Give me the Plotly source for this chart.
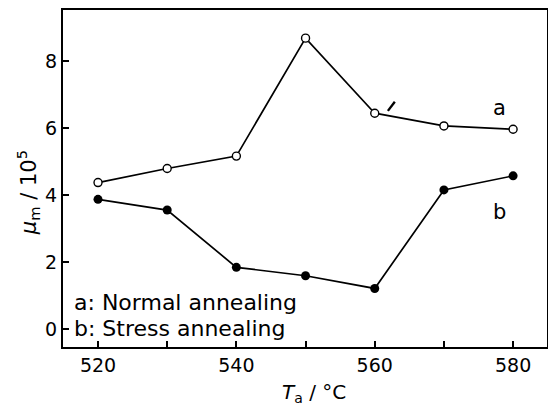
import plotly.graph_objects as go

temps = [520, 530, 540, 550, 560, 570, 580]
mu_normal = [4.37, 4.79, 5.16, 8.68, 6.44, 6.06, 5.96]
mu_stress = [3.87, 3.55, 1.84, 1.59, 1.21, 4.15, 4.57]
x_tickvals = [520, 540, 560, 580]
x_ticktext = ["520", "540", "560", "580"]
y_tickvals = [0, 2, 4, 6, 8]
y_ticktext = ["0", "2", "4", "6", "8"]
marker_arrow_x = [561.9, 562.9]
marker_arrow_y = [6.51, 6.78]

FONT = "DejaVu Sans"
fig = go.Figure()
fig.add_trace(go.Scatter(x=temps, y=mu_normal, mode="lines+markers",
                         line=dict(color="black", width=1.7),
                         marker=dict(symbol="circle", size=8, color="white",
                                     line=dict(color="black", width=1.4)),
                         showlegend=False))
fig.add_trace(go.Scatter(x=temps, y=mu_stress, mode="lines+markers",
                         line=dict(color="black", width=1.7),
                         marker=dict(symbol="circle", size=9, color="black"),
                         showlegend=False))

fig.add_shape(type="line", xref="x", yref="y",
              x0=marker_arrow_x[0], y0=marker_arrow_y[0],
              x1=marker_arrow_x[1], y1=marker_arrow_y[1],
              line=dict(color="black", width=2.4))

fig.add_annotation(x=578, y=6.61, text="a", showarrow=False,
                   font=dict(family=FONT, size=21, color="black"))
fig.add_annotation(x=578, y=3.50, text="b", showarrow=False,
                   font=dict(family=FONT, size=21, color="black"))
fig.add_annotation(x=516.3, y=0.80, xanchor="left", text="a: Normal annealing",
                   showarrow=False, font=dict(family=FONT, size=22, color="black"))
fig.add_annotation(x=516.3, y=0.03, xanchor="left", text="b: Stress annealing",
                   showarrow=False, font=dict(family=FONT, size=22, color="black"))

# axis titles
fig.add_annotation(xref="paper", yref="paper", x=0.519, y=-0.1365,
                   text="<i>T</i><sub>a</sub> / °C", showarrow=False,
                   xanchor="center", yanchor="middle",
                   font=dict(family=FONT, size=20, color="black"))
fig.add_annotation(xref="paper", yref="paper", x=-0.072, y=0.457,
                   text="<i>μ</i><sub>m</sub> / 10<sup>5</sup>", showarrow=False,
                   textangle=-90, xanchor="center", yanchor="middle",
                   font=dict(family=FONT, size=21, color="black"))

fig.update_xaxes(range=[514.94, 584.9], tickvals=x_tickvals, ticktext=x_ticktext,
                 ticks="inside", ticklen=6, tickwidth=1.5, tickcolor="black",
                 minor=dict(tick0=520, dtick=10, ticks="inside", ticklen=6,
                            tickwidth=1.5, tickcolor="black", showgrid=False),
                 showline=True, linecolor="black", linewidth=2, mirror=True,
                 showgrid=False, zeroline=False, automargin=False,
                 tickfont=dict(family=FONT, size=19, color="black"))
fig.update_yaxes(range=[-0.537, 9.52], tickvals=y_tickvals, ticktext=y_ticktext,
                 ticks="inside", ticklen=6, tickwidth=1.5, tickcolor="black",
                 showline=True, linecolor="black", linewidth=2, mirror=True,
                 showgrid=False, zeroline=False, automargin=False,
                 tickfont=dict(family=FONT, size=19, color="black"))
fig.update_layout(width=548, height=413, plot_bgcolor="white", paper_bgcolor="white",
                  margin=dict(l=63, r=1, t=10, b=66))
fig.write_html("out.html", config={"displayModeBar": False},
               post_script="document.body.style.margin='0';document.body.style.overflow='hidden';")
